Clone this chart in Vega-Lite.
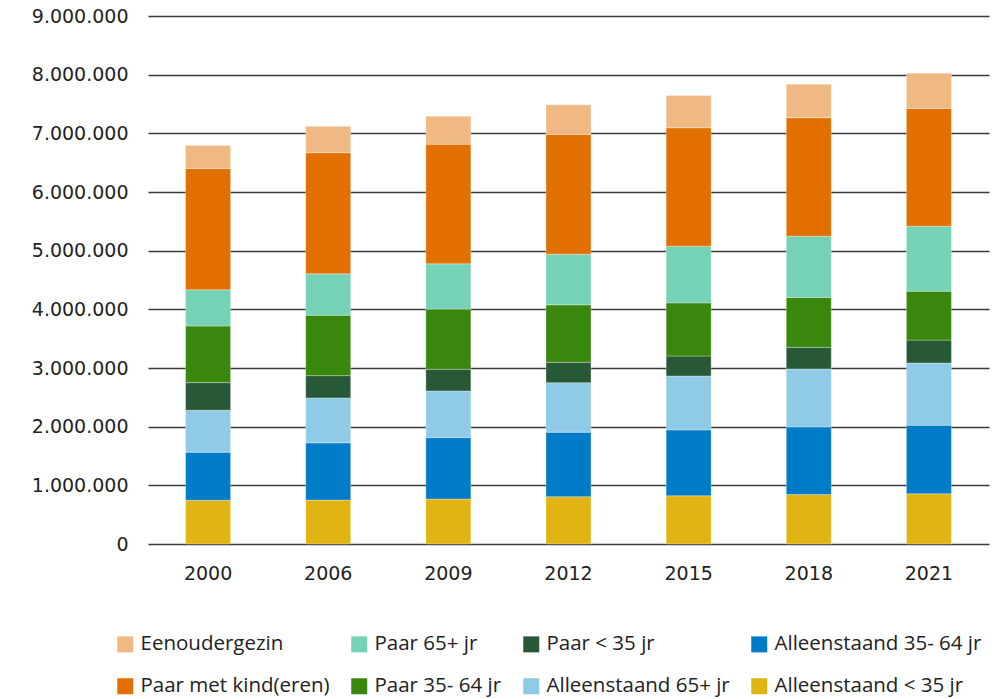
{
  "$schema": "https://vega.github.io/schema/vega-lite/v6.json",
  "width": 854,
  "height": 528,
  "autosize": "none",
  "padding": {"left": 136, "top": 16, "right": 7, "bottom": 155},
  "background": "#ffffff",
  "config": {
    "view": {"stroke": null},
    "font": "Open Sans",
    "axis": {"labelFont": "DejaVu Sans", "labelColor": "#222222"},
    "legend": {"labelFont": "Open Sans"}
  },
  "data": {
    "values": [
      {"year": "2000", "type": "Alleenstaand < 35 jr", "rank": 1, "value": 745000},
      {"year": "2000", "type": "Alleenstaand 35- 64 jr", "rank": 2, "value": 820000},
      {"year": "2000", "type": "Alleenstaand 65+ jr", "rank": 3, "value": 715000},
      {"year": "2000", "type": "Paar < 35 jr", "rank": 4, "value": 471000},
      {"year": "2000", "type": "Paar 35- 64 jr", "rank": 5, "value": 964000},
      {"year": "2000", "type": "Paar 65+ jr", "rank": 6, "value": 619000},
      {"year": "2000", "type": "Paar met kind(eren)", "rank": 7, "value": 2066000},
      {"year": "2000", "type": "Eenoudergezin", "rank": 8, "value": 394000},

      {"year": "2006", "type": "Alleenstaand < 35 jr", "rank": 1, "value": 749000},
      {"year": "2006", "type": "Alleenstaand 35- 64 jr", "rank": 2, "value": 975000},
      {"year": "2006", "type": "Alleenstaand 65+ jr", "rank": 3, "value": 766000},
      {"year": "2006", "type": "Paar < 35 jr", "rank": 4, "value": 380000},
      {"year": "2006", "type": "Paar 35- 64 jr", "rank": 5, "value": 1030000},
      {"year": "2006", "type": "Paar 65+ jr", "rank": 6, "value": 705000},
      {"year": "2006", "type": "Paar met kind(eren)", "rank": 7, "value": 2065000},
      {"year": "2006", "type": "Eenoudergezin", "rank": 8, "value": 450000},

      {"year": "2009", "type": "Alleenstaand < 35 jr", "rank": 1, "value": 766000},
      {"year": "2009", "type": "Alleenstaand 35- 64 jr", "rank": 2, "value": 1048000},
      {"year": "2009", "type": "Alleenstaand 65+ jr", "rank": 3, "value": 794000},
      {"year": "2009", "type": "Paar < 35 jr", "rank": 4, "value": 370000},
      {"year": "2009", "type": "Paar 35- 64 jr", "rank": 5, "value": 1026000},
      {"year": "2009", "type": "Paar 65+ jr", "rank": 6, "value": 771000},
      {"year": "2009", "type": "Paar met kind(eren)", "rank": 7, "value": 2041000},
      {"year": "2009", "type": "Eenoudergezin", "rank": 8, "value": 474000},

      {"year": "2012", "type": "Alleenstaand < 35 jr", "rank": 1, "value": 805000},
      {"year": "2012", "type": "Alleenstaand 35- 64 jr", "rank": 2, "value": 1101000},
      {"year": "2012", "type": "Alleenstaand 65+ jr", "rank": 3, "value": 844000},
      {"year": "2012", "type": "Paar < 35 jr", "rank": 4, "value": 347000},
      {"year": "2012", "type": "Paar 35- 64 jr", "rank": 5, "value": 980000},
      {"year": "2012", "type": "Paar 65+ jr", "rank": 6, "value": 863000},
      {"year": "2012", "type": "Paar met kind(eren)", "rank": 7, "value": 2040000},
      {"year": "2012", "type": "Eenoudergezin", "rank": 8, "value": 507000},

      {"year": "2015", "type": "Alleenstaand < 35 jr", "rank": 1, "value": 822000},
      {"year": "2015", "type": "Alleenstaand 35- 64 jr", "rank": 2, "value": 1123000},
      {"year": "2015", "type": "Alleenstaand 65+ jr", "rank": 3, "value": 919000},
      {"year": "2015", "type": "Paar < 35 jr", "rank": 4, "value": 340000},
      {"year": "2015", "type": "Paar 35- 64 jr", "rank": 5, "value": 906000},
      {"year": "2015", "type": "Paar 65+ jr", "rank": 6, "value": 966000},
      {"year": "2015", "type": "Paar met kind(eren)", "rank": 7, "value": 2019000},
      {"year": "2015", "type": "Eenoudergezin", "rank": 8, "value": 550000},

      {"year": "2018", "type": "Alleenstaand < 35 jr", "rank": 1, "value": 844000},
      {"year": "2018", "type": "Alleenstaand 35- 64 jr", "rank": 2, "value": 1152000},
      {"year": "2018", "type": "Alleenstaand 65+ jr", "rank": 3, "value": 987000},
      {"year": "2018", "type": "Paar < 35 jr", "rank": 4, "value": 369000},
      {"year": "2018", "type": "Paar 35- 64 jr", "rank": 5, "value": 851000},
      {"year": "2018", "type": "Paar 65+ jr", "rank": 6, "value": 1043000},
      {"year": "2018", "type": "Paar met kind(eren)", "rank": 7, "value": 2020000},
      {"year": "2018", "type": "Eenoudergezin", "rank": 8, "value": 571000},

      {"year": "2021", "type": "Alleenstaand < 35 jr", "rank": 1, "value": 856000},
      {"year": "2021", "type": "Alleenstaand 35- 64 jr", "rank": 2, "value": 1169000},
      {"year": "2021", "type": "Alleenstaand 65+ jr", "rank": 3, "value": 1060000},
      {"year": "2021", "type": "Paar < 35 jr", "rank": 4, "value": 391000},
      {"year": "2021", "type": "Paar 35- 64 jr", "rank": 5, "value": 834000},
      {"year": "2021", "type": "Paar 65+ jr", "rank": 6, "value": 1106000},
      {"year": "2021", "type": "Paar met kind(eren)", "rank": 7, "value": 2008000},
      {"year": "2021", "type": "Eenoudergezin", "rank": 8, "value": 601000}
    ]
  },
  "mark": {"type": "bar", "stroke": "#ffffff", "strokeWidth": 0.6, "strokeOpacity": 0.5},
  "encoding": {
    "x": {
      "field": "year",
      "type": "nominal",
      "sort": null,
      "scale": {"type": "band", "range": [12, 853], "paddingInner": 0.6255, "paddingOuter": 0.3128},
      "axis": {
        "title": null,
        "labelAngle": 0,
        "labelFontSize": 19,
        "labelPadding": 20,
        "ticks": false,
        "domain": false,
        "grid": false
      }
    },
    "y": {
      "field": "value",
      "type": "quantitative",
      "stack": "zero",
      "scale": {"domain": [0, 9000000], "nice": false},
      "axis": {
        "title": null,
        "values": [0, 1000000, 2000000, 3000000, 4000000, 5000000, 6000000, 7000000, 8000000, 9000000],
        "labelExpr": "datum.value == 0 ? '0' : format(datum.value / 1000000, 'd') + '.000.000'",
        "labelFontSize": 19,
        "labelPadding": 8,
        "ticks": false,
        "domain": false,
        "grid": true,
        "gridColor": "#3a3a3a",
        "gridWidth": 1.4
      }
    },
    "color": {
      "field": "type",
      "type": "nominal",
      "scale": {
        "domain": ["Eenoudergezin", "Paar met kind(eren)", "Paar 65+ jr", "Paar 35- 64 jr", "Paar < 35 jr", "Alleenstaand 65+ jr", "Alleenstaand 35- 64 jr", "Alleenstaand < 35 jr"],
        "range": ["#f0b882", "#e17000", "#76d2b6", "#39870c", "#275937", "#8fcae7", "#007bc7", "#e0b513"]
      },
      "legend": {
        "title": null,
        "orient": "none",
        "legendX": -21,
        "legendY": 618,
        "columns": 4,
        "columnPadding": 19,
        "rowPadding": 21,
        "symbolType": "square",
        "symbolSize": 256,
        "symbolStrokeWidth": 0,
        "labelFontSize": 20.5,
        "labelColor": "#222222",
        "labelOffset": 5,
        "labelLimit": 400
      }
    },
    "order": {"field": "rank", "type": "quantitative", "sort": "ascending"}
  }
}
